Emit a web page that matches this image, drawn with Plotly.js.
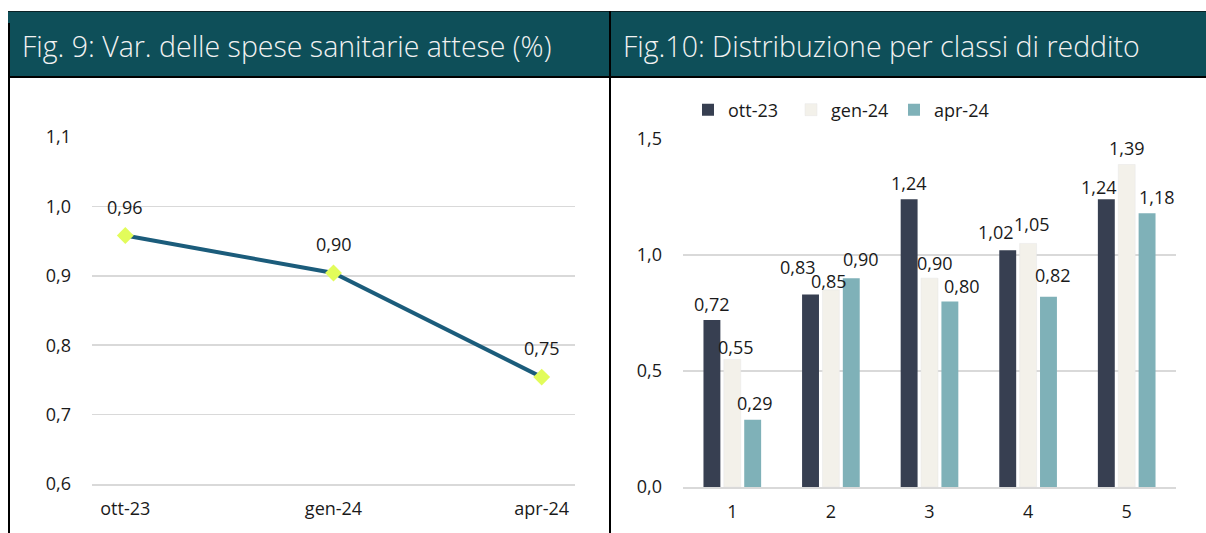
<!DOCTYPE html>
<html>
<head>
<meta charset="utf-8">
<script src="https://cdn.plot.ly/plotly-3.0.1.min.js"></script>
<style>
  html, body { margin: 0; padding: 0; background: #ffffff; }
  #chart { width: 1206px; height: 533px; }
</style>
</head>
<body>
<div id="chart"></div>
<script>
// ---- Data ----
const lineTitle = "Fig. 9: Var. delle spese sanitarie attese (%)";
const barTitle = "Fig.10: Distribuzione per classi di reddito";

const lineCategories = ["ott-23", "gen-24", "apr-24"];
const lineValues = [0.958, 0.904, 0.754];

const incomeClasses = ["1", "2", "3", "4", "5"];
const seriesNames = ["ott-23", "gen-24", "apr-24"];
const valuesOtt23 = [0.72, 0.83, 1.24, 1.02, 1.24];
const valuesGen24 = [0.55, 0.85, 0.90, 1.05, 1.39];
const valuesApr24 = [0.29, 0.90, 0.80, 0.82, 1.18];

// ---- Styling: label nudges (px) so bar value labels do not collide, as in the original ----
const labelNudgeX = [[0, -13, 0, -12, -7], [4, -2, 5, 4, 0], [2, 10, 12, 5, 10]];
const labelRise   = [[16, 27, 16, 18, 12], [12, 9, 15, 19, 17], [17, 19, 15, 22, 16]];

// ---- Layout helpers ----
const W = 1206, H = 533;
const px = v => v / W;
const py = v => 1 - v / H;

const FONT = "Open Sans, Noto Sans, sans-serif";
const TXT = "#1a1a1a";
const GRID = "#d9d9d9";
const barColors = ["#373f51", "#f3f1ea", "#7fb1b8"];
const barSeries = [valuesOtt23, valuesGen24, valuesApr24];

const BAR_X0 = 683, BAR_X1 = 1176, BARGAP = 0.38;
const slotPx = ((BAR_X1 - BAR_X0) / incomeClasses.length) * (1 - BARGAP) / seriesNames.length;

const traces = [];
traces.push({
  type: "scatter",
  mode: "lines+markers",
  x: lineCategories,
  y: lineValues,
  xaxis: "x", yaxis: "y",
  line: { color: "#1b5c7b", width: 4 },
  marker: { symbol: "diamond", size: 13, color: "#e2fc5a" },
  showlegend: false,
  hoverinfo: "skip"
});

barSeries.forEach((vals, i) => {
  traces.push({
    type: "bar",
    name: seriesNames[i],
    x: incomeClasses,
    y: vals,
    xaxis: "x2", yaxis: "y2",
    marker: { color: barColors[i], line: { color: "#e6e6e6", width: i === 1 ? 0.5 : 0 } },
    hoverinfo: "skip"
  });
});

const fmt = v => v.toFixed(2).replace(".", ",");

const annotations = [
  { xref: "paper", yref: "paper", x: px(20), y: py(46), xanchor: "left", yanchor: "middle",
    text: lineTitle, showarrow: false, font: { family: FONT, size: 28.5, color: "#f2f2f2", weight: 300 } },
  { xref: "paper", yref: "paper", x: px(621), y: py(46), xanchor: "left", yanchor: "middle",
    text: barTitle, showarrow: false, font: { family: FONT, size: 28.5, color: "#f2f2f2", weight: 300 } }
];
lineCategories.forEach((c, i) => {
  annotations.push({
    xref: "x", yref: "y", x: i, y: lineValues[i], yshift: 29,
    text: fmt(lineValues[i]), showarrow: false,
    font: { family: FONT, size: 18, color: TXT }
  });
});
barSeries.forEach((vals, s) => {
  vals.forEach((v, k) => {
    annotations.push({
      xref: "x2", yref: "y2", x: k, y: v,
      xshift: (s - 1) * slotPx + labelNudgeX[s][k], yshift: labelRise[s][k],
      xanchor: "center", yanchor: "middle",
      text: fmt(v), showarrow: false,
      font: { family: FONT, size: 18, color: TXT }
    });
  });
});

const shapes = [
  { type: "rect", xref: "paper", yref: "paper", x0: px(8), x1: px(1206), y0: py(77), y1: py(11),
    fillcolor: "#0e4f59", line: { width: 0 }, layer: "below" },
  { type: "line", xref: "paper", yref: "paper", x0: px(8), x1: px(1206), y0: py(11.5), y1: py(11.5),
    line: { color: "#0a2226", width: 1 } },
  { type: "line", xref: "paper", yref: "paper", x0: px(8), x1: px(1206), y0: py(77), y1: py(77),
    line: { color: "#000000", width: 2 } },
  { type: "line", xref: "paper", yref: "paper", x0: px(9), x1: px(9), y0: py(23), y1: py(533),
    line: { color: "#000000", width: 2 } },
  { type: "line", xref: "paper", yref: "paper", x0: px(610), x1: px(610), y0: py(11), y1: py(533),
    line: { color: "#000000", width: 2 } }
];

const layout = {
  width: W, height: H,
  margin: { l: 0, r: 0, t: 0, b: 0 },
  paper_bgcolor: "#ffffff",
  plot_bgcolor: "rgba(0,0,0,0)",
  separators: ",.",
  font: { family: FONT, size: 17, color: TXT },
  showlegend: true,
  legend: {
    orientation: "h", x: px(688), y: py(110), xanchor: "left", yanchor: "middle",
    font: { family: FONT, size: 18, color: TXT }, traceorder: "normal",
    entrywidth: 58, bgcolor: "rgba(0,0,0,0)"
  },
  barmode: "group",
  bargap: BARGAP,
  bargroupgap: 0.17,
  xaxis: {
    domain: [px(92), px(575)], anchor: "y", type: "category",
    range: [-0.16, 2.16], showgrid: false, showline: true, linecolor: GRID, linewidth: 1.5,
    ticks: "", ticklabelstandoff: 8, tickfont: { family: FONT, size: 18, color: TXT }, fixedrange: true
  },
  yaxis: {
    domain: [py(484), py(137)], anchor: "x",
    range: [0.6, 1.1], dtick: 0.1, tick0: 0.6, tickformat: ".1f",
    showgrid: true, gridcolor: GRID, gridwidth: 1.5, zeroline: false, showline: false,
    ticks: "", ticklabelstandoff: 20, tickfont: { family: FONT, size: 18, color: TXT }, fixedrange: true
  },
  xaxis2: {
    domain: [px(BAR_X0), px(BAR_X1)], anchor: "y2", type: "category",
    range: [-0.5, 4.5], showgrid: false, showline: true, linecolor: GRID, linewidth: 1.5,
    ticks: "", ticklabelstandoff: 8, tickfont: { family: FONT, size: 18, color: TXT }, fixedrange: true
  },
  yaxis2: {
    domain: [py(487), py(139)], anchor: "x2",
    range: [0, 1.5], dtick: 0.5, tick0: 0, tickformat: ".1f",
    showgrid: true, gridcolor: GRID, gridwidth: 1.5, zeroline: false, showline: false,
    ticks: "", ticklabelstandoff: 20, tickfont: { family: FONT, size: 18, color: TXT }, fixedrange: true
  },
  annotations: annotations,
  shapes: shapes
};

Plotly.newPlot("chart", traces, layout, { displayModeBar: false, staticPlot: true });
</script>
</body>
</html>
